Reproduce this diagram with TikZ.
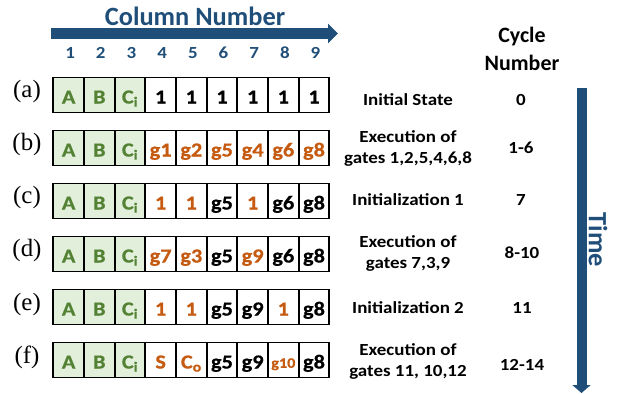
\documentclass[tikz,border=0pt]{standalone}
\usepackage{fontspec}
\setmainfont{Carlito}
\newfontfamily\widefont[FakeStretch=1.12]{Carlito}
\newfontfamily\heavyfont[FakeStretch=1.12,FakeBold=0.6,UprightFont=* Bold]{Carlito}
\newfontfamily\lblfont{Liberation Serif}
\usetikzlibrary{arrows.meta}
\definecolor{dblue}{HTML}{1F4E79}
\definecolor{gorange}{HTML}{C55A11}
\definecolor{ggreen}{HTML}{548235}
\definecolor{lgreen}{HTML}{E2EFDA}
\begin{document}
\begin{tikzpicture}[x={(1bp,0bp)},y={(0bp,-1bp)},
  cellbox/.style={draw=black,line width=1.8bp,minimum width=30.67bp,minimum height=35bp,inner sep=0pt,
    text height=17bp,text depth=0bp,
    font=\heavyfont\fontsize{20}{20}\selectfont},
  grn/.style={cellbox,fill=lgreen,text=ggreen},
  org/.style={cellbox,text=gorange},
  blk/.style={cellbox,text=black},
  rowlbl/.style={font=\lblfont\fontsize{25}{25}\selectfont,inner sep=0pt},
  desc/.style={font=\widefont\bfseries\fontsize{17}{22}\selectfont,align=center,inner sep=0pt},
  colnum/.style={font=\widefont\bfseries\fontsize{17}{17}\selectfont,text=dblue,inner sep=0pt},
  title/.style={font=\bfseries\fontsize{26.5}{26.5}\selectfont,text=dblue,inner sep=0pt},
  bigarrow/.style={draw=dblue,line width=11bp,-{Triangle[length=10bp,width=19bp]}}
]
\useasboundingbox (0,0) rectangle (618,393);

% column header
\node[title] (coltitle) at (195,16) {Column Number};
\coordinate (colstart) at (51,33.5);
\coordinate (colend) at (338,33.5);
\draw[bigarrow] (colstart) -- (colend);
\foreach \c in {1,...,9}{
  \node[colnum] (num\c) at ({53.3+(\c-0.5)*30.67+1.5},53) {\c};
}

% cycle header
\node[desc,font=\bfseries\fontsize{22}{28}\selectfont] (cychead) at (522,49) {Cycle\\Number};

% time arrow
\coordinate (tstart) at (581.5,88);
\coordinate (tend) at (581.5,393);
\draw[bigarrow,line width=10bp,-{Triangle[length=8bp,width=18bp]}] (tstart) -- (tend);
\node[title,rotate=-90] (time) at (598,240) {Time};

% rows: label and green cells
\foreach \r/\yy in {a/95,b/148,c/201,d/254,e/307,f/360}{
  \node[rowlbl] (lbl\r) at (27,\yy-3) {(\r)};
  \node[grn] (\r1) at ({53.3+0.5*30.67},\yy) {A};
  \node[grn] (\r2) at ({53.3+1.5*30.67},\yy) {B};
  \node[grn] (\r3) at ({53.3+2.5*30.67},\yy) {C\textsubscript{i}};
}

% remaining cells
\foreach \r/\yy/\c/\st/\t in {
  a/95/4/blk/1, a/95/5/blk/1, a/95/6/blk/1, a/95/7/blk/1, a/95/8/blk/1, a/95/9/blk/1,
  b/148/4/org/g1, b/148/5/org/g2, b/148/6/org/g5, b/148/7/org/g4, b/148/8/org/g6, b/148/9/org/g8,
  c/201/4/org/1, c/201/5/org/1, c/201/6/blk/g5, c/201/7/org/1, c/201/8/blk/g6, c/201/9/blk/g8,
  d/254/4/org/g7, d/254/5/org/g3, d/254/6/blk/g5, d/254/7/org/g9, d/254/8/blk/g6, d/254/9/blk/g8,
  e/307/4/org/1, e/307/5/org/1, e/307/6/blk/g5, e/307/7/blk/g9, e/307/8/org/1, e/307/9/blk/g8,
  f/360/4/org/S, f/360/5/org/C\textsubscript{o}, f/360/6/blk/g5, f/360/7/blk/g9, f/360/9/blk/g8}{
  \node[\st] (\r\c) at ({53.3+(\c-0.5)*30.67},\yy) {\t};
}
\node[org,text height=15.5bp,font=\heavyfont\fontsize{14.5}{14.5}\selectfont] (f8) at ({53.3+7.5*30.67},360) {g10};

% descriptions
\node[desc] (da) at (408,100) {Initial State};
\node[desc] (db) at (408,148.5) {Execution of\\gates 1,2,5,4,6,8};
\node[desc] (dc) at (408,200) {Initialization 1};
\node[desc] (dd) at (408,253.5) {Execution of\\gates 7,3,9};
\node[desc] (de) at (408,308) {Initialization 2};
\node[desc] (df) at (408,361.5) {Execution of\\gates 11, 10,12};

% cycle numbers
\node[desc] (na) at (521,100) {0};
\node[desc] (nb) at (521,148) {1-6};
\node[desc] (nc) at (521,200) {7};
\node[desc] (nd) at (522,253) {8-10};
\node[desc] (ne) at (522,308) {11};
\node[desc] (nf) at (522,365) {12-14};
\end{tikzpicture}
\end{document}
